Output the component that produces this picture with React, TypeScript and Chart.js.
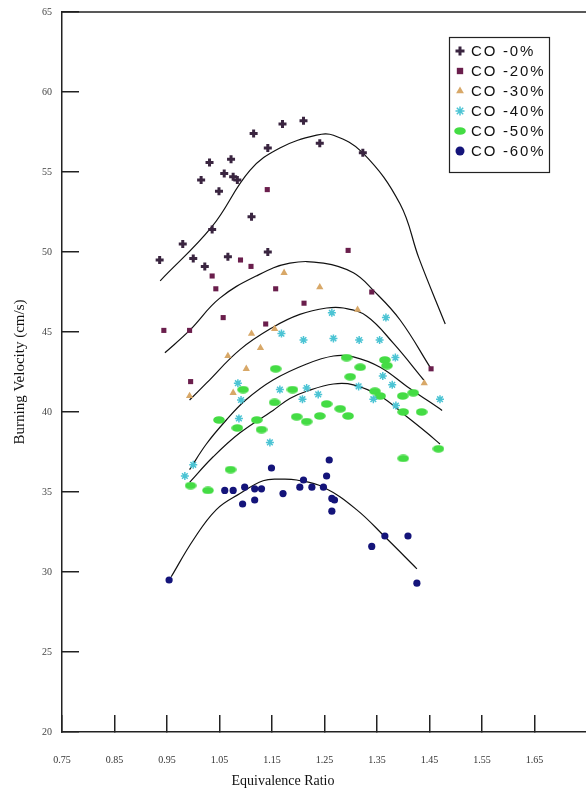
import React, { useEffect, useRef } from 'react';
import { Chart, registerables } from 'chart.js';
import { drawPoint } from 'chart.js/helpers';

Chart.register(...registerables);

// ---- axis ticks ----
const xTickValues = [0.75, 0.85, 0.95, 1.05, 1.15, 1.25, 1.35, 1.45, 1.55, 1.65, 1.75];
const yTickValues = [20, 25, 30, 35, 40, 45, 50, 55, 60, 65];

// ---- series labels ----
const seriesLabels = ['CO -0%', 'CO -20%', 'CO -30%', 'CO -40%', 'CO -50%', 'CO -60%'];

// ---- measured points (equivalence ratio, burning velocity) ----
const co0Phi = [0.936, 0.98, 1.0, 1.022, 1.036, 1.015, 1.031, 1.049, 1.072, 1.059, 1.076, 1.084, 1.066, 1.115, 1.111, 1.142, 1.142, 1.17, 1.21, 1.241, 1.323];
const co0Speed = [49.5, 50.5, 49.6, 49.1, 51.4, 54.5, 55.6, 53.8, 55.8, 54.9, 54.7, 54.5, 49.7, 57.4, 52.2, 50.0, 56.5, 58.0, 58.2, 56.8, 56.2];

const co20Phi = [1.141, 1.295, 1.09, 1.11, 1.036, 1.043, 1.157, 1.34, 0.944, 0.993, 1.057, 1.138, 1.211, 0.995, 1.453];
const co20Speed = [53.9, 50.1, 49.5, 49.1, 48.5, 47.7, 47.7, 47.5, 45.1, 45.1, 45.9, 45.5, 46.8, 41.9, 42.7];

const co30Phi = [1.173, 1.241, 1.313, 1.155, 1.111, 1.128, 1.066, 1.101, 0.993, 1.076, 1.44];
const co30Speed = [48.7, 47.8, 46.4, 45.2, 44.9, 44.0, 43.5, 42.7, 41.0, 41.2, 41.8];

const co40Phi = [1.264, 1.367, 1.168, 1.21, 1.267, 1.316, 1.355, 1.385, 1.085, 1.165, 1.216, 1.238, 1.091, 1.208, 1.315, 1.361, 1.379, 1.343, 1.386, 1.47, 1.087, 1.146, 1.0, 0.984];
const co40Speed = [46.2, 45.9, 44.9, 44.5, 44.6, 44.5, 44.5, 43.4, 41.8, 41.4, 41.5, 41.1, 40.75, 40.8, 41.6, 42.25, 41.7, 40.8, 40.4, 40.8, 39.6, 38.1, 36.7, 36.0];

const co50Phi = [1.292, 1.318, 1.299, 1.365, 1.369, 1.157, 1.189, 1.095, 1.155, 1.254, 1.28, 1.346, 1.356, 1.399, 1.419, 1.435, 1.4, 1.197, 1.216, 1.241, 1.295, 1.049, 1.121, 1.084, 1.13, 1.4, 1.467, 1.071, 0.995, 1.028];
const co50Speed = [43.4, 42.8, 42.2, 43.25, 42.9, 42.7, 41.4, 41.4, 40.6, 40.5, 40.2, 41.3, 41.0, 41.0, 41.2, 40.0, 40.0, 39.7, 39.4, 39.75, 39.75, 39.5, 39.5, 39.0, 38.9, 37.1, 37.7, 36.4, 35.4, 35.1];

const co60Phi = [0.954, 1.06, 1.076, 1.098, 1.117, 1.13, 1.094, 1.117, 1.149, 1.171, 1.21, 1.203, 1.226, 1.248, 1.259, 1.254, 1.264, 1.269, 1.264, 1.34, 1.365, 1.409, 1.426];
const co60Speed = [29.5, 35.1, 35.1, 35.3, 35.2, 35.2, 34.25, 34.5, 36.5, 34.9, 35.75, 35.3, 35.3, 35.3, 37.0, 36.0, 34.6, 34.5, 33.8, 31.6, 32.25, 32.25, 29.3];

// ---- fitted curves ----
const fit0Phi = [0.937, 1.036, 1.108, 1.165, 1.235, 1.267, 1.323, 1.394, 1.43, 1.48];
const fit0Speed = [48.2, 51.6, 55.1, 56.5, 57.3, 57.3, 56.2, 53.0, 49.6, 45.5];

const fit20Phi = [0.946, 0.993, 1.05, 1.12, 1.184, 1.248, 1.305, 1.343, 1.394, 1.453];
const fit20Speed = [43.7, 45.1, 47.1, 48.5, 49.3, 49.3, 48.7, 47.6, 45.75, 42.7];

const fit30Phi = [0.993, 1.025, 1.089, 1.152, 1.203, 1.254, 1.286, 1.33, 1.381, 1.439];
const fit30Speed = [40.75, 41.8, 43.9, 45.3, 46.1, 46.5, 46.5, 46.0, 44.3, 42.0];

const fit40Phi = [0.993, 1.025, 1.063, 1.1, 1.152, 1.216, 1.267, 1.305, 1.356, 1.407, 1.474];
const fit40Speed = [36.4, 38.0, 39.5, 40.75, 42.0, 43.0, 43.5, 43.45, 42.8, 41.6, 40.1];

const fit50Phi = [0.993, 1.038, 1.089, 1.152, 1.184, 1.216, 1.267, 1.305, 1.356, 1.407, 1.445, 1.47];
const fit50Speed = [35.6, 37.2, 38.7, 40.1, 40.85, 41.3, 41.75, 41.7, 41.0, 39.7, 38.7, 38.0];

const fit60Phi = [0.958, 1.0, 1.044, 1.089, 1.133, 1.165, 1.197, 1.248, 1.311, 1.365, 1.426];
const fit60Speed = [29.7, 32.0, 33.9, 34.9, 35.7, 35.8, 35.75, 35.3, 33.9, 32.2, 30.2];

const seriesColors = ['#3a2540', '#6a1e4c', '#d8a868', '#4cc4d4', '#44dc44', '#14147a'];

const pts = (xs: number[], ys: number[]) => xs.map((x, i) => ({ x, y: ys[i] }));

function makeBlob(): HTMLCanvasElement {
  const c = document.createElement('canvas');
  c.width = 12;
  c.height = 8;
  const g = c.getContext('2d')!;
  g.fillStyle = '#44dc44';
  g.beginPath();
  g.ellipse(6, 4, 5.8, 3.8, 0, 0, Math.PI * 2);
  g.fill();
  return c;
}

const SERIF = '"Liberation Serif", "Times New Roman", serif';

export default function App() {
  const ref = useRef<HTMLCanvasElement>(null);

  useEffect(() => {
    const blob = makeBlob();
    const fitLine = (xs: number[], ys: number[]) => ({
      label: 'fit',
      data: pts(xs, ys),
      showLine: true,
      pointRadius: 0,
      borderColor: '#111',
      borderWidth: 1.2,
      tension: 0.4,
      fill: false,
    });
    const scatter = (i: number, xs: number[], ys: number[], style: any, radius: number, bw: number) => ({
      label: seriesLabels[i],
      data: pts(xs, ys),
      showLine: false,
      pointStyle: style,
      pointRadius: radius,
      backgroundColor: seriesColors[i],
      borderColor: seriesColors[i],
      borderWidth: bw,
      isSeries: true,
    });

    const legendPlugin = {
      id: 'boxLegend',
      afterDraw(chart: any) {
        const ctx = chart.ctx;
        const items = chart.data.datasets.filter((d: any) => d.isSeries);
        ctx.save();
        ctx.fillStyle = '#fff';
        ctx.fillRect(449, 37, 100, 135);
        ctx.strokeStyle = '#222';
        ctx.lineWidth = 1.2;
        ctx.strokeRect(449.5, 37.5, 100, 135);
        items.forEach((d: any, i: number) => {
          const y = 51 + i * 20;
          ctx.fillStyle = d.backgroundColor;
          ctx.strokeStyle = d.borderColor;
          ctx.lineWidth = d.borderWidth;
          drawPoint(ctx, { pointStyle: d.pointStyle, radius: 4.5, borderWidth: d.borderWidth, rotation: 0 } as any, 460, y);
          ctx.fillStyle = '#111';
          ctx.font = '15px "Liberation Sans", Arial, sans-serif';
          (ctx as any).letterSpacing = '1.8px';
          ctx.textBaseline = 'middle';
          ctx.textAlign = 'left';
          ctx.fillText(d.label, 471, y + 1);
        });
        ctx.restore();
      },
    };

    const framePlugin = {
      id: 'frame',
      afterDraw(chart: any) {
        const { ctx, chartArea } = chart;
        ctx.save();
        ctx.strokeStyle = '#222';
        ctx.lineWidth = 1.5;
        ctx.beginPath();
        ctx.moveTo(chartArea.left, chartArea.top);
        ctx.lineTo(chartArea.right, chartArea.top);
        ctx.stroke();
        ctx.fillStyle = '#111';
        ctx.font = '14px ' + SERIF;
        ctx.textAlign = 'center';
        ctx.textBaseline = 'middle';
        ctx.fillText('Equivalence Ratio', 283, 781);
        ctx.restore();
      },
    };

    const chart = new Chart(ref.current!, {
      type: 'scatter',
      data: {
        datasets: [
          scatter(0, co0Phi, co0Speed, 'cross', 4, 3),
          scatter(1, co20Phi, co20Speed, 'rect', 3.6, 0),
          scatter(2, co30Phi, co30Speed, 'triangle', 4.2, 0),
          scatter(3, co40Phi, co40Speed, 'star', 4, 1.5),
          scatter(4, co50Phi, co50Speed, blob, 5, 0),
          scatter(5, co60Phi, co60Speed, 'circle', 3.6, 0),
          fitLine(fit0Phi, fit0Speed),
          fitLine(fit20Phi, fit20Speed),
          fitLine(fit30Phi, fit30Speed),
          fitLine(fit40Phi, fit40Speed),
          fitLine(fit50Phi, fit50Speed),
          fitLine(fit60Phi, fit60Speed),
        ] as any,
      },
      options: {
        animation: false,
        responsive: false,
        maintainAspectRatio: false,
        layout: { padding: { top: 12, left: 0, right: 0, bottom: 0 } },
        plugins: { legend: { display: false }, tooltip: { enabled: false } },
        scales: {
          x: {
            type: 'linear',
            min: 0.75,
            max: 1.75,
            afterBuildTicks: (s: any) => {
              s.ticks = xTickValues.map((v) => ({ value: v }));
            },
            afterFit: (s: any) => {
              s.height = 59;
              s.paddingLeft = 0;
              s.paddingRight = 0;
            },
            ticks: {
              autoSkip: false,
              maxRotation: 0,
              padding: 39,
              color: '#333',
              font: { family: SERIF, size: 10 },
              callback: (v: any) => (Number(v) >= 1.75 ? '' : Number(v).toFixed(2)),
            },
            grid: { drawOnChartArea: false, drawTicks: true, tickLength: -17, color: '#222', lineWidth: 1.5 },
            border: { color: '#222', width: 1.5 },
          },
          y: {
            type: 'linear',
            min: 20,
            max: 65,
            afterBuildTicks: (s: any) => {
              s.ticks = yTickValues.map((v) => ({ value: v }));
            },
            afterFit: (s: any) => {
              s.width = 62;
              s.paddingTop = 0;
              s.paddingBottom = 0;
            },
            ticks: {
              padding: 27,
              color: '#444',
              font: { family: SERIF, size: 10 },
              callback: (v: any) => String(v),
            },
            grid: { drawOnChartArea: false, drawTicks: true, tickLength: -17, color: '#222', lineWidth: 1.5 },
            border: { color: '#222', width: 1.5 },
            title: {
              display: true,
              text: 'Burning Velocity (cm/s)',
              color: '#111',
              font: { family: SERIF, size: 15 },
              padding: { top: 11, bottom: 0 },
            },
          },
        },
      } as any,
      plugins: [framePlugin, legendPlugin],
    });
    return () => chart.destroy();
  }, []);

  return (
    <div style={{ position: 'absolute', left: 0, top: 0, width: 586, height: 791, overflow: 'hidden', background: '#fff' }}>
      <canvas ref={ref} width={594} height={791} style={{ display: 'block' }} />
    </div>
  );
}
